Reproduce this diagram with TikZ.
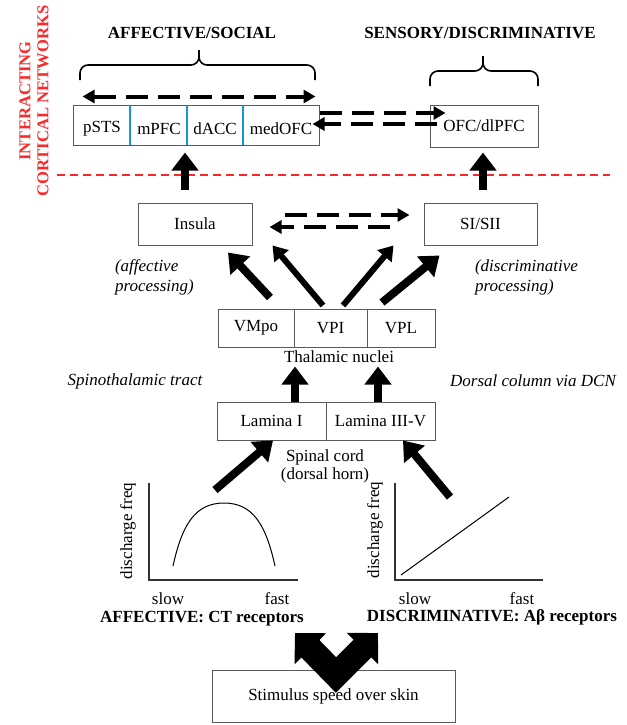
\documentclass[tikz,border=0pt]{standalone}
\usepackage{fontspec}
\setmainfont{Liberation Serif}
\usetikzlibrary{arrows.meta}

\definecolor{netred}{RGB}{250,40,40}
\definecolor{divblue}{RGB}{20,150,210}

\begin{document}
\begin{tikzpicture}[x=0.5pt, y=-0.5pt, font=\fontsize{8.5}{10}\selectfont,
    box/.style={draw=black!65, line width=0.5pt, inner sep=0pt, minimum height=20pt},
    fat/.style={line width=4pt, -{Triangle[length=9pt,width=13pt]}},
    slim/.style={line width=3pt, -{Triangle[length=7pt,width=9pt]}},
    dashlink/.style={line width=2pt, dash pattern=on 11pt off 5pt, -{Triangle[length=6pt,width=6.5pt]}}]
\useasboundingbox (0,0) rectangle (627,725);

\node (net) at (34,101)[rotate=90, text=netred, align=center, font=\fontsize{8.3}{9}\selectfont\bfseries]{INTERACTING\\CORTICAL NETWORKS};
\draw[netred, line width=0.6pt, dash pattern=on 4pt off 2.5pt] (57,175)--(610,175);

\node (aff) at (192,33){\bfseries AFFECTIVE/SOCIAL};
\node (sen) at (480,33){\bfseries SENSORY/DISCRIMINATIVE};
\foreach \l/\m/\r/\h in {80/199/315/65, 430/483/538/71}
{
    \draw[line width=0.8pt, rounded corners=4pt] (\l,\h+15)--(\l,\h)--(\m,\h)--(\m,\h-15);
    \draw[line width=0.8pt, rounded corners=4pt] (\m,\h-15)--(\m,\h)--(\r,\h)--(\r,\h+15);
}

\node (ctx) at (196,125)[box, minimum width=123pt]{};
\foreach \x/\t/\n in {102/pSTS/psts, 159/mPFC/mpfc, 215/dACC/dacc, 281/medOFC/medofc}
{
    \node (\n) at (\x,129){\t};
}
\foreach \x in {130,187,243}
    \draw[divblue, line width=0.9pt] (\x,105)--(\x,145);
\node (ofc) at (484,126)[box, minimum width=54pt, minimum height=21pt]{OFC/dlPFC};

\node (ins) at (195,224)[box, minimum width=57pt, minimum height=21pt]{Insula};
\node (si) at (480.5,224)[box, minimum width=56.5pt, minimum height=21pt]{SI/SII};
\node (affp) at (108,277)[right, align=left, font=\fontsize{8.5}{10}\selectfont\itshape]{(affective\\processing)};
\node (disp) at (468,277)[right, align=left, font=\fontsize{8.5}{10}\selectfont\itshape]{(discriminative\\processing)};

\node (vmpo) at (256,328)[box, minimum width=38pt, minimum height=19pt]{VMpo};
\node (vpi) at (330.5,328)[box, minimum width=36.5pt, minimum height=19pt]{VPI};
\node (vpl) at (401,328)[box, minimum width=34pt, minimum height=19pt]{VPL};
\node (thal) at (339,357){Thalamic nuclei};
\node (stt) at (135,381){\itshape Spinothalamic tract};
\node (dcn) at (533,381){\itshape Dorsal column via DCN};

\node (lam1) at (271.5,421)[box, minimum width=54.5pt, minimum height=19pt]{Lamina I};
\node (lam3) at (380.5,421)[box, minimum width=54.5pt, minimum height=19pt]{Lamina III-V};
\node (cord) at (325,466)[align=center, font=\fontsize{8.5}{9}\selectfont]{Spinal cord\\(dorsal horn)};

\draw[black!80, line width=0.7pt] (149,483)--(149,580)--(298,580);
\draw[line width=0.5pt] (173,566) .. controls (182,525) and (195,503) .. (224,503) .. controls (253,503) and (266,525) .. (275,566);
\node (dfl) at (128,531)[rotate=90]{discharge freq};
\node (slowl) at (168,599){slow};
\node (fastl) at (277,599){fast};
\node (ct) at (202,619){\bfseries AFFECTIVE: CT receptors};

\draw[black!80, line width=0.7pt] (395,483)--(395,580)--(543,580);
\draw[line width=0.5pt] (401,575)--(509,497);
\node (dfr) at (375,530)[rotate=90]{discharge freq};
\node (slowr) at (415,599){slow};
\node (fastr) at (522,599){fast};
\node (ab) at (492,617){\bfseries DISCRIMINATIVE: Aβ receptors};

\node (stim) at (333.5,696)[box, minimum width=121.5pt, minimum height=26pt]{Stimulus speed over skin};
\coordinate (vtx) at (336,675);
\coordinate (tipl) at (295,633);
\coordinate (tipr) at (378,633);
\coordinate (gl) at (215,490);
\coordinate (gr) at (450,497);

\draw[line width=12.5pt, {Triangle[length=11pt,width=21.5pt]}-{Triangle[length=11pt,width=21.5pt]}] (tipl)--(vtx)--(tipr);
\draw[fat] (gl)--([xshift=0.75pt]lam1.south);
\draw[fat] (gr)--([xshift=11.25pt]lam3.south);
\draw[fat] ([xshift=11.75pt]lam1.north)--([xshift=-17.75pt,yshift=-9.5pt]vpi.south);
\draw[fat] ([xshift=-1.25pt]lam3.north)--([xshift=-11.5pt,yshift=-9.5pt]vpl.south);
\draw[fat] ([xshift=7pt,yshift=5.5pt]vmpo.north)--([xshift=16.5pt,yshift=-3.5pt]ins.south);
\draw[slim] ([xshift=-3.75pt,yshift=1.5pt]vpi.north)--([xshift=10pt]ins.south east);
\draw[slim] ([xshift=6.25pt,yshift=1.5pt]vpi.north)--([xshift=-15pt]si.south west);
\draw[fat] ([xshift=-9.5pt,yshift=3pt]vpl.north)--([xshift=8pt,yshift=-5pt]si.south west);
\draw[fat] ([xshift=-5pt,yshift=6.5pt]ins.north)--([xshift=-5.5pt,yshift=-3.5pt]ctx.south);
\draw[fat] ([xshift=1.25pt,yshift=6.5pt]si.north)--([xshift=-0.5pt,yshift=-2.5pt]ofc.south);

\draw[dashlink, {Triangle[length=6pt,width=6.5pt]}-{Triangle[length=6pt,width=6.5pt]}] ([xshift=5pt,yshift=4pt]ctx.north west)--([xshift=-2pt,yshift=4pt]ctx.north east);
\draw[dashlink] ([yshift=6pt]ctx.east)--([xshift=8pt,yshift=6.5pt]ofc.west);
\draw[dashlink] ([xshift=3.5pt,yshift=1pt]ofc.west)--([xshift=-3.5pt,yshift=0.5pt]ctx.east);
\draw[dashlink] ([xshift=16pt,yshift=4.5pt]ins.east)--([xshift=-7pt,yshift=4.5pt]si.west);
\draw[dashlink] ([xshift=-17pt,yshift=-1.5pt]si.west)--([xshift=8.5pt,yshift=-1.5pt]ins.east);
\end{tikzpicture}
\end{document}
